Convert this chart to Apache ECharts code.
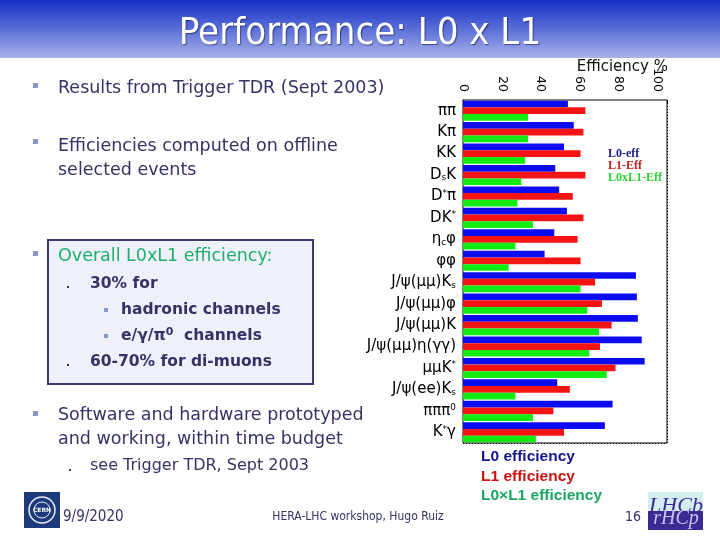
<!DOCTYPE html>
<html>
<head>
<meta charset="utf-8">
<script src="https://cdn.jsdelivr.net/npm/echarts@6/dist/echarts.min.js"></script>
<style>html,body{margin:0;padding:0;background:#fff;}#c{width:720px;height:540px;}</style>
</head>
<body>
<div id="c"></div>
<script>
// ---- data ----
var categories = ['ππ','Kπ','KK','D_sK','D^*π','DK^*','η_cφ','φφ','J/ψ(μμ)K_s','J/ψ(μμ)φ','J/ψ(μμ)K','J/ψ(μμ)η(γγ)','μμK^*','J/ψ(ee)K_s','πππ^0','K^*γ'];
var l0Eff   = [54, 57, 52, 47.5, 49.5, 53.5, 47, 42, 89, 89.5, 90, 92, 93.5, 48.5, 77, 73];
var l1Eff   = [63, 62, 60.5, 63, 56.5, 62, 59, 60.5, 68, 71.5, 76.5, 70.5, 78.5, 55, 46.5, 52];
var l0l1Eff = [33.5, 33.5, 32, 30, 28, 36, 27, 23.5, 60.5, 64, 70, 65, 74, 27, 36, 37.5];
var seriesNames = ['L0-eff', 'L1-Eff', 'L0xL1-Eff'];
var xTicks = [0, 20, 40, 60, 80, 100];

var chart = echarts.init(document.getElementById('c'), null, {renderer: 'canvas'});
var navy = '#333366';
var bodyFont = '17.5px "DejaVu Sans"';
var boldFont = 'bold 15.5px "DejaVu Sans"';

function txt(t, x, y, font, fill, align) {
  return {type: 'text', z: 10, style: {text: t, x: x, y: y, font: font, fill: fill,
    textAlign: align || 'left', align: align || 'left', textVerticalAlign: 'middle', verticalAlign: 'middle'}};
}
function sq(x, y, s, c) {
  return {type: 'rect', z: 10, shape: {x: x, y: y, width: s, height: s}, style: {fill: c}};
}

var graphics = [
  // title bar
  {type: 'rect', z: 0, shape: {x: 0, y: 0, width: 720, height: 58},
   style: {fill: new echarts.graphic.LinearGradient(0, 0, 0, 1, [
     {offset: 0, color: '#1430c6'}, {offset: 0.5, color: '#5a6ed7'}, {offset: 1, color: '#a9b2ea'}])}},
  {type: 'text', z: 10, style: {text: 'Performance: L0 x L1', x: 360, y: 34, font: '38px "DejaVu Sans Condensed"', fill: '#ffffff',
    textAlign: 'center', align: 'center', textVerticalAlign: 'middle', verticalAlign: 'middle',
    textShadowColor: 'rgba(0,0,40,0.5)', textShadowOffsetX: 1, textShadowOffsetY: 1, textShadowBlur: 1}},
  // bullets
  sq(33, 83, 5, '#8a93d8'),
  txt('Results from Trigger TDR (Sept 2003)', 58, 88, bodyFont, navy),
  sq(33, 139, 5, '#8a93d8'),
  txt('Efficiencies computed on offline', 58, 146, bodyFont, navy),
  txt('selected events', 58, 170, bodyFont, navy),
  // box
  sq(33, 251, 5, '#8a93d8'),
  {type: 'rect', z: 5, shape: {x: 48, y: 240, width: 265, height: 144}, style: {fill: '#eef0fa', stroke: '#3a3a72', lineWidth: 2}},
  txt('Overall L0xL1 efficiency:', 58, 256, bodyFont, '#1fae6b'),
  sq(67, 286, 2, navy),
  txt('30% for', 90, 284, boldFont, navy),
  sq(104, 308, 4, '#8a93d8'),
  txt('hadronic channels', 121, 310, boldFont, navy),
  sq(104, 334, 4, '#8a93d8'),
  {type: 'text', z: 10, style: {text: '{b|e/γ/π}{s|0}{b|  channels}', x: 121, y: 336, fill: navy,
    textVerticalAlign: 'middle', verticalAlign: 'middle',
    rich: {b: {font: boldFont, fill: navy, color: navy}, s: {font: 'bold 11px "DejaVu Sans"', fill: navy, color: navy, padding: [0, 0, 8, 0]}}}},
  sq(67, 364, 2, navy),
  txt('60-70% for di-muons', 90, 362, boldFont, navy),
  // software bullet
  sq(33, 411, 5, '#8a93d8'),
  txt('Software and hardware prototyped', 58, 415, bodyFont, navy),
  txt('and working, within time budget', 58, 439, bodyFont, navy),
  sq(69, 469, 2, navy),
  txt('see Trigger TDR, Sept 2003', 90, 466, '16px "DejaVu Sans"', navy),
  // footer
  {type: 'rect', z: 10, shape: {x: 24, y: 492, width: 36, height: 36}, style: {fill: '#1d3b7a'}},
  {type: 'circle', z: 11, shape: {cx: 42, cy: 510, r: 13}, style: {fill: 'none', stroke: '#e8ecf6', lineWidth: 1.5}},
  {type: 'circle', z: 11, shape: {cx: 42, cy: 510, r: 8}, style: {fill: 'none', stroke: '#e8ecf6', lineWidth: 1}},
  txt('CERN', 42, 510, 'bold 6px "DejaVu Sans"', '#ffffff', 'center'),
  txt('9/9/2020', 63, 517, '15px "DejaVu Sans Condensed"', navy),
  txt('HERA-LHC workshop, Hugo Ruiz', 358, 517, '12px "DejaVu Sans Condensed"', navy, 'center'),
  txt('16', 633, 517, '14px "DejaVu Sans Condensed"', navy, 'center'),
  {type: 'rect', z: 10, shape: {x: 648, y: 492, width: 55, height: 20}, style: {fill: '#d3eef0'}},
  {type: 'rect', z: 10, shape: {x: 648, y: 511, width: 55, height: 19}, style: {fill: '#3b2a92'}},
  txt('LHCb', 676, 506, 'italic 22px "Liberation Serif"', '#3b2a92', 'center'),
  txt('rHCp', 676, 519, 'italic 20px "Liberation Serif"', '#c9c3ee', 'center'),
  // outer legend
  txt('L0 efficiency', 481, 457, 'bold 15.5px "Liberation Sans"', '#14148f'),
  txt('L1 efficiency', 481, 477, 'bold 15.5px "Liberation Sans"', '#cc1212'),
  txt('L0×L1 efficiency', 481, 496, 'bold 15.5px "Liberation Sans"', '#1aa860'),
  // axis title
  txt('Efficiency %', 668, 67, '15px "DejaVu Sans"', '#111111', 'right')
];

var barColors = ['#0c0cf0', '#f41414', '#12ec12'];
var values = [l0Eff, l1Eff, l0l1Eff];

var option = {
  backgroundColor: '#ffffff',
  animation: false,
  textStyle: {fontFamily: '"DejaVu Sans"'},
  grid: {left: 463, top: 100, width: 204, height: 343, show: true, borderColor: '#000', borderWidth: 1, backgroundColor: '#fff', z: 1},
  legend: {
    orient: 'vertical', left: 603, top: 148, padding: 0, itemWidth: 0, itemHeight: 0, itemGap: 0, icon: 'rect',
    data: [
      {name: seriesNames[0], textStyle: {color: '#1a1a8a'}},
      {name: seriesNames[1], textStyle: {color: '#c42020'}},
      {name: seriesNames[2], textStyle: {color: '#2fd02f'}}
    ],
    textStyle: {fontFamily: '"Liberation Serif"', fontWeight: 'bold', fontSize: 12, lineHeight: 12, padding: 0},
    selectedMode: false
  },
  xAxis: {
    type: 'value', position: 'top', min: 0, max: 105, interval: 20,
    axisLine: {show: true, lineStyle: {color: '#000', width: 1}},
    axisTick: {show: true, inside: true, length: 4, lineStyle: {color: '#000'}},
    minorTick: {show: true, splitNumber: 5, length: 2, lineStyle: {color: '#000'}},
    splitLine: {show: true, lineStyle: {color: '#000', type: [1, 2], width: 1}},
    axisLabel: {
      rotate: 90, margin: 8, fontSize: 12.5, color: '#000', fontFamily: '"DejaVu Sans"',
      showMaxLabel: false,
      formatter: function (v) { return xTicks.indexOf(v) >= 0 ? String(v) : ''; }
    }
  },
  yAxis: {
    type: 'category', data: categories, inverse: true,
    axisLine: {show: true, lineStyle: {color: '#000'}},
    axisTick: {show: false},
    splitLine: {show: true, interval: 0, lineStyle: {color: '#000', type: [1, 2], width: 1}},
    axisLabel: {
      interval: 0, margin: 7, fontSize: 15, color: '#000', fontFamily: '"DejaVu Sans"',
      formatter: function (v) {
        return v.replace(/_(.)/g, '{sub|$1}').replace(/\^(.)/g, '{sup|$1}');
      },
      rich: {
        sub: {fontSize: 9, color: '#000', padding: [6, 0, 0, 0]},
        sup: {fontSize: 9, color: '#000', padding: [0, 0, 6, 0]}
      }
    }
  },
  series: seriesNames.map(function (n, i) {
    return {
      name: n, type: 'bar', data: values[i], barGap: '0%', barCategoryGap: '6%',
      itemStyle: {color: barColors[i]}, z: 3
    };
  }),
  graphic: graphics
};
chart.setOption(option);
</script>
</body>
</html>
